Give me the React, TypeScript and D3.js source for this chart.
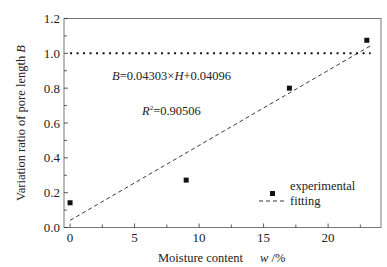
import React from "react";
import * as d3 from "d3";

const moisture = [0, 9, 17, 23];
const ratio = [0.142, 0.272, 0.8, 1.075];
const fitSlope = 0.04303;
const fitIntercept = 0.04096;
const fitRange = [0, 23.3];
const refLevel = 1.0;
const xTicks = [0, 5, 10, 15, 20];
const yTicks = [0, 0.2, 0.4, 0.6, 0.8, 1.0, 1.2];

export default function App() {
  const W = 387, H = 267;
  const m = { left: 64, right: 381, top: 18.5, bottom: 227.5 };
  const x = d3.scaleLinear().domain([-0.47, 24.1]).range([m.left, m.right]);
  const y = d3.scaleLinear().domain([0, 1.2]).range([m.bottom, m.top]);
  const font = "Liberation Serif, DejaVu Serif, serif";
  const axisColor = "#777";
  const xMinor = d3.range(0, 24.01, 2.5);
  const yMinor = d3.range(0, 1.201, 0.1);
  const fitLine = d3.line<number>().x((d) => x(d)).y((d) => y(fitSlope * d + fitIntercept));
  const ts = { fontFamily: font };
  return (
    <svg width={W} height={H} style={{ position: "absolute", left: 0, top: 0, background: "#fff", fontFamily: font }}>
      <rect x={m.left} y={m.top} width={m.right - m.left} height={m.bottom - m.top} fill="none" stroke={axisColor} strokeWidth={1} />
      {xMinor.map((t, i) => (
        <line key={"xm" + i} x1={x(t)} x2={x(t)} y1={m.bottom} y2={m.bottom - (Math.abs(t % 5) < 1e-6 ? 4 : 3)} stroke="#333" strokeWidth={0.8} />
      ))}
      {yMinor.map((t, i) => (
        <line key={"ym" + i} x1={m.left} x2={m.left + (Math.round(t * 10) % 2 === 0 ? 4 : 3)} y1={y(t)} y2={y(t)} stroke="#333" strokeWidth={0.8} />
      ))}
      {xTicks.map((t) => (
        <text key={"xt" + t} style={ts} x={x(t)} y={242} textAnchor="middle" fontSize={13} fill="#222">{t}</text>
      ))}
      {yTicks.map((t) => (
        <text key={"yt" + t} style={ts} x={60} y={y(t) + 4.5} textAnchor="end" fontSize={13} fill="#222">{t.toFixed(1)}</text>
      ))}
      <line x1={x(fitRange[0])} x2={x(fitRange[1])} y1={y(refLevel)} y2={y(refLevel)} stroke="#111" strokeWidth={2} strokeDasharray="2 4.5" />
      <path d={fitLine(fitRange) || ""} fill="none" stroke="#222" strokeWidth={0.9} strokeDasharray="4 3" />
      {moisture.map((v, i) => (
        <rect key={"p" + i} x={x(v) - 2.5} y={y(ratio[i]) - 2.5} width={5} height={5} fill="#111" />
      ))}
      <text style={ts} x={112} y={80} fontSize={12.5} fill="#222"><tspan fontStyle="italic">B</tspan>=0.04303×<tspan fontStyle="italic">H</tspan>+0.04096</text>
      <text style={ts} x={142} y={115} fontSize={12.5} fill="#222"><tspan fontStyle="italic">R</tspan><tspan fontSize={7} dy={-5}>2</tspan><tspan dy={5}>=0.90506</tspan></text>
      <rect x={270} y={191} width={5} height={5} fill="#111" />
      <text style={ts} x={290} y={190} fontSize={12.5} fill="#222">experimental</text>
      <line x1={259} x2={287} y1={201} y2={201} stroke="#222" strokeWidth={0.9} strokeDasharray="4 3" />
      <text style={ts} x={290} y={205} fontSize={12.5} fill="#222">fitting</text>
      <text style={ts} x={158} y={262} fontSize={12.5} fill="#222">Moisture content</text>
      <text style={ts} x={260} y={262} fontSize={12.5} fill="#222"><tspan fontStyle="italic">w</tspan> /%</text>
      <text style={ts} transform={`translate(25,${(m.top + m.bottom) / 2}) rotate(-90)`} textAnchor="middle" fontSize={12.5} fill="#222">Variation ratio of pore length <tspan fontStyle="italic">B</tspan></text>
    </svg>
  );
}
